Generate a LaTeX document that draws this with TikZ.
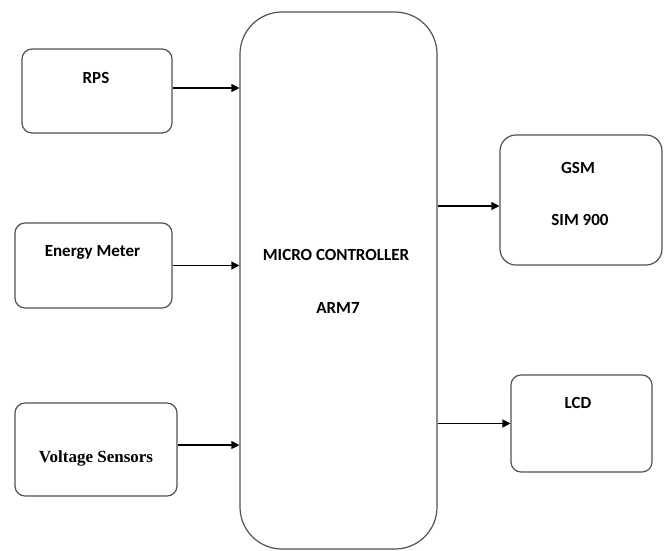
\documentclass[tikz,border=0pt]{standalone}
\usepackage{fontspec}
\setmainfont{Carlito}
\newfontfamily\timesfont{Liberation Serif}
\usetikzlibrary{arrows.meta}
\begin{document}
\begin{tikzpicture}[x=1pt,y=-1pt,
  blk/.style={draw=black!68, line width=1.2pt, rounded corners=10pt, inner sep=0pt},
  bigblk/.style={draw=black!68, line width=1.2pt, rounded corners=42pt, inner sep=0pt},
  lbl/.style={font=\fontsize{17}{20}\selectfont\bfseries, inner sep=0pt, anchor=center},
  conn/.style={line width=1.2pt, -{Triangle[length=8pt,width=8pt]}}]
\useasboundingbox (0,0) rectangle (668,550);
% boxes
\node[blk, minimum width=150pt, minimum height=84pt] (rps) at (97,91) {};
\node[blk, minimum width=157pt, minimum height=85pt] (em) at (93.5,265.5) {};
\node[blk, minimum width=162pt, minimum height=93pt] (vs) at (96,449.5) {};
\node[bigblk, minimum width=197pt, minimum height=537pt] (mc) at (338.5,280.5) {};
\node[blk, minimum width=162pt, minimum height=130pt, rounded corners=16pt] (gsm) at (581,200) {};
\node[blk, minimum width=141pt, minimum height=97pt] (lcd) at (581.5,423.5) {};
% labels
\node[lbl] (rpst) at (96,78) {RPS};
\node[lbl] (emt) at (92.5,252) {Energy Meter};
\node[lbl, font=\fontsize{17}{20}\selectfont\timesfont\bfseries] (vst) at (96,458) {Voltage Sensors};
\node[lbl] (mct1) at (336,255) {MICRO CONTROLLER};
\node[lbl] (mct2) at (338,308) {ARM7};
\node[lbl] (gsmt1) at (578,168) {GSM};
\node[lbl] (gsmt2) at (580,220) {SIM 900};
\node[lbl] (lcdt) at (578,403) {LCD};
% connectors
\draw[conn] ([yshift=3pt]rps.east) -- ([yshift=3pt]rps.east -| mc.west);
\draw[conn] (em.east) -- (em.east -| mc.west);
\draw[conn] ([yshift=4.5pt]vs.east) -- ([yshift=4.5pt]vs.east -| mc.west);
\draw[conn] ([yshift=-6pt]gsm.west -| mc.east) -- ([yshift=-6pt]gsm.west);
\draw[conn] (lcd.west -| mc.east) -- (lcd.west);
\end{tikzpicture}
\end{document}
